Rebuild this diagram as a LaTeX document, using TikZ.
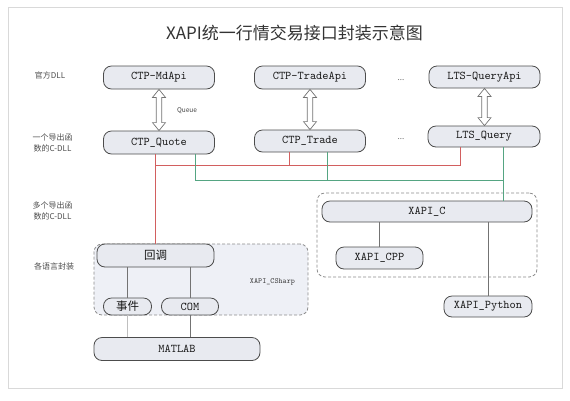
\documentclass[tikz,border=0pt]{standalone}
\usepackage{fontspec}
\usepackage{tikz}
\usetikzlibrary{calc}
\newfontfamily\cjk{Noto Sans CJK SC}
\newfontfamily\monofont{lmmono10-regular.otf}
\definecolor{boxfill}{RGB}{232,234,240}
\definecolor{groupfill}{RGB}{238,240,246}
\definecolor{redwire}{RGB}{210,95,95}
\definecolor{greenwire}{RGB}{85,165,130}

% hollow double arrow between two stacked boxes
\newcommand\qarrow[2]{%
\draw[dblarrow] let \p1=(#1.south), \p2=(#2.north) in
  (\x1,\y1) -- (\x1+6.5pt,\y1-8pt) -- (\x1+2.8pt,\y1-8pt) -- (\x1+2.8pt,\y2+8pt)
  -- (\x1+6.5pt,\y2+8pt) -- (\x1,\y2) -- (\x1-6.5pt,\y2+8pt) -- (\x1-2.8pt,\y2+8pt)
  -- (\x1-2.8pt,\y1-8pt) -- (\x1-6.5pt,\y1-8pt) -- cycle;}

\begin{document}
\begin{tikzpicture}[x=1pt,y=-1pt,
  box/.style={draw=black!70,line width=0.8pt,fill=boxfill,rounded corners=8pt,inner sep=0pt,
    text=black!90,font=\monofont\fontsize{11.8}{13}\selectfont},
  group/.style={draw=black!45,line width=0.8pt,dash pattern=on 3pt off 2pt,rounded corners=8pt},
  lab/.style={font=\cjk\fontsize{8}{10.5}\selectfont,text=black!70,align=center},
  dblarrow/.style={draw=black!55,line width=0.7pt,fill=white},
  redline/.style={redwire,line width=0.9pt},
  greenline/.style={greenwire,line width=0.9pt},
  grayline/.style={black!55,line width=0.8pt}]
\useasboundingbox (0,0) rectangle (570,400);
\draw[black!15,line width=0.8pt] (8,7) rectangle (562,388);

\node[font=\cjk\fontsize{17}{20}\selectfont,text=black!80] (title) at (294.5,33) {XAPI统一行情交易接口封装示意图};

% row labels
\node[lab] (l1) at (50,75) {官方DLL};
\node[lab] (l2) at (52.5,143) {一个导出函\\数的C-DLL};
\node[lab] (l3) at (52.5,211) {多个导出函\\数的C-DLL};
\node[lab] (l4) at (54,266) {各语言封装};

% groups
\node[group,fill=groupfill,minimum width=214pt,minimum height=71pt] (csharp) at (201,279.5) {};
\node[group,minimum width=220pt,minimum height=84pt] (cgroup) at (427,235) {};
\node[font=\monofont\fontsize{7.8}{9}\selectfont,text=black!80] (csharplab) at (272.5,282) {XAPI\_CSharp};

% official dlls
\node[box,minimum width=111pt,minimum height=23pt] (mdapi) at (159,77.5) {CTP-MdApi};
\node[box,minimum width=111pt,minimum height=23pt] (tradeapi) at (310,77.5) {CTP-TradeApi};
\node[box,minimum width=111pt,minimum height=22pt] (queryapi) at (484.5,77) {LTS-QueryApi};
\node[lab,text=black!60] (dots1) at (401,80) {...};

% one-export c dlls
\node[box,minimum width=111pt,minimum height=23pt] (quote) at (159,142.5) {CTP\_Quote};
\node[box,minimum width=111pt,minimum height=22pt] (trade) at (310,141) {CTP\_Trade};
\node[box,minimum width=112pt,minimum height=21pt] (query) at (484,136.5) {LTS\_Query};
\node[lab,text=black!60] (dots2) at (401,139) {...};

\qarrow{mdapi}{quote}
\qarrow{tradeapi}{trade}
\qarrow{queryapi}{query}
\node[font=\cjk\fontsize{6.5}{8}\selectfont,text=black!75] (queue) at (187,110.5) {Queue};

% multi-export c dll
\node[box,minimum width=210pt,minimum height=21pt] (xapic) at (427,211.5) {XAPI\_C};
\node[box,minimum width=87pt,minimum height=22pt] (cpp) at (379.5,258) {XAPI\_CPP};
\node[box,minimum width=88pt,minimum height=21pt] (python) at (488,306.5) {XAPI\_Python};

% wrappers
\node[box,minimum width=117pt,minimum height=23pt,font=\cjk\fontsize{11.5}{13}\selectfont] (callback) at (155.5,255.5) {回调};
\node[box,minimum width=48pt,minimum height=17pt,font=\cjk\fontsize{11.5}{13}\selectfont] (event) at (127.5,306.5) {事件};
\node[box,minimum width=57pt,minimum height=17pt] (com) at (190,306.5) {COM};
\node[box,minimum width=166pt,minimum height=23pt] (matlab) at (177,349) {MATLAB};

% red bus
\coordinate (rjoin) at (156,165.7);
\draw[redline] (callback.north |- quote.south) -- (callback.north);
\draw[redline] ([xshift=-21pt]trade.south) |- (rjoin);
\draw[redline] ([xshift=-24pt]query.south) |- (rjoin);

% green bus
\coordinate (gjoin) at (503,180);
\draw[greenline] ([xshift=19pt]query.south) -- ([xshift=19pt]query.south |- xapic.north);
\draw[greenline] ([xshift=36pt]quote.south) |- (gjoin);
\draw[greenline] ([xshift=17pt]trade.south) -- ([xshift=17pt]trade.south |- gjoin);

\draw[grayline] (cpp.north |- xapic.south) -- (cpp.north);
\draw[grayline] (python.north |- xapic.south) -- (python.north);
\draw[grayline] (event.north |- callback.south) -- (event.north);
\draw[black!25,line width=0.8pt] (event.south) -- (event.south |- matlab.north);
\draw[grayline] (com.north |- callback.south) -- (com.north);
\draw[grayline] (com.south) -- (com.south |- matlab.north);
\end{tikzpicture}
\end{document}
